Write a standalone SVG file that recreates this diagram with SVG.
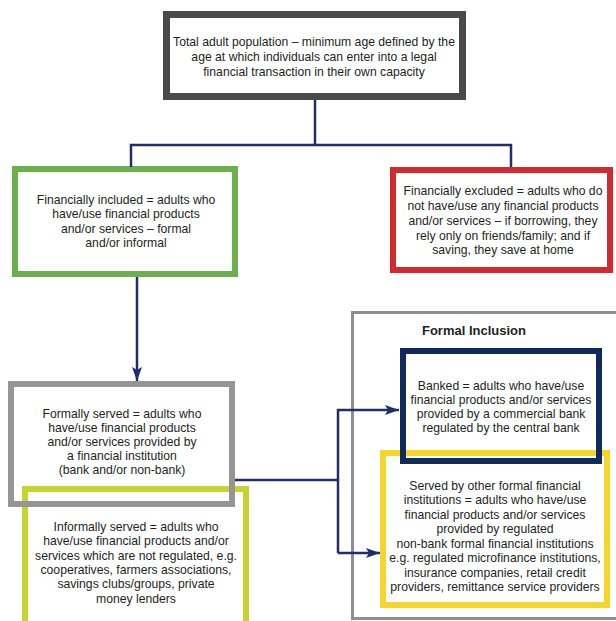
<svg xmlns="http://www.w3.org/2000/svg" width="616" height="621" viewBox="0 0 616 621">
<style>
.box{fill:none;}
.t{font-family:"Liberation Sans",Arial,sans-serif;font-size:12.2px;fill:#231f20;text-anchor:middle;}
.h{font-family:"Liberation Sans",Arial,sans-serif;font-size:13px;font-weight:bold;fill:#231f20;text-anchor:middle;}
.c{fill:none;stroke:#1f2e6e;stroke-width:2.5;}
</style>
<defs>
<marker id="arr" markerUnits="userSpaceOnUse" markerWidth="14" markerHeight="12" viewBox="0 0 14 12" refX="14" refY="6" orient="auto">
<path d="M0,1 L14,6 L0,11 L3,6 Z" fill="#1f2e6e"/>
</marker>
</defs>
<rect width="616" height="621" fill="#ffffff"/>

<g id="formal-inclusion">
<rect class="box" x="352.5" y="312.5" width="300" height="306" stroke="#8f8f8f" stroke-width="3"/>
<text class="h" x="474" y="335">Formal Inclusion</text>
</g>

<g id="total">
<rect x="166.5" y="14.5" width="296" height="82" fill="#ffffff" stroke="#4a4a4a" stroke-width="7"/>
<text class="t" x="314" y="46">Total adult population – minimum age defined by the</text>
<text class="t" x="314" y="61">age at which individuals can enter into a legal</text>
<text class="t" x="314" y="76">financial transaction in their own capacity</text>
</g>

<g id="included">
<rect x="15" y="169" width="220" height="105" fill="#ffffff" stroke="#6ab04d" stroke-width="6"/>
<text class="t" x="126" y="203.5">Financially included = adults who</text>
<text class="t" x="126" y="218">have/use financial products</text>
<text class="t" x="126" y="232.5">and/or services – formal</text>
<text class="t" x="126" y="247">and/or informal</text>
</g>

<g id="excluded">
<rect x="393" y="170" width="217" height="100" fill="#ffffff" stroke="#d12a2f" stroke-width="6"/>
<text class="t" x="503" y="194.5">Financially excluded = adults who do</text>
<text class="t" x="503" y="209.5">not have/use any financial products</text>
<text class="t" x="503" y="224.5">and/or services – if borrowing, they</text>
<text class="t" x="503" y="239.5">rely only on friends/family; and if</text>
<text class="t" x="503" y="254">saving, they save at home</text>
</g>

<g id="informal">
<rect class="box" x="25" y="489" width="221" height="200" stroke="#c5d430" stroke-width="6"/>
<text class="t" x="136" y="531">Informally served = adults who</text>
<text class="t" x="136" y="545.3">have/use financial products and/or</text>
<text class="t" x="136" y="559.6">services which are not regulated, e.g.</text>
<text class="t" x="136" y="573.9">cooperatives, farmers associations,</text>
<text class="t" x="136" y="588.2">savings clubs/groups, private</text>
<text class="t" x="136" y="602.5">money lenders</text>
</g>

<g id="formal">
<rect class="box" x="11" y="384" width="221" height="120" stroke="#959595" stroke-width="6"/>
<text class="t" x="122" y="417.5">Formally served = adults who</text>
<text class="t" x="122" y="431.7">have/use financial products</text>
<text class="t" x="122" y="445.9">and/or services provided by</text>
<text class="t" x="122" y="460.1">a financial institution</text>
<text class="t" x="122" y="474.3">(bank and/or non-bank)</text>
</g>

<g id="other">
<rect class="box" x="383" y="453" width="224" height="152" stroke="#f4d62c" stroke-width="6"/>
<text class="t" x="495" y="489.5">Served by other formal financial</text>
<text class="t" x="495" y="504">institutions = adults who have/use</text>
<text class="t" x="495" y="518.5">financial products and/or services</text>
<text class="t" x="495" y="533">provided by regulated</text>
<text class="t" x="495" y="547.5">non-bank formal financial institutions</text>
<text class="t" x="495" y="562">e.g. regulated microfinance institutions,</text>
<text class="t" x="495" y="576.5">insurance companies, retail credit</text>
<text class="t" x="495" y="591">providers, remittance service providers</text>
</g>

<g id="banked">
<rect class="box" x="403" y="351" width="196" height="110" stroke="#102a5c" stroke-width="6"/>
<text class="t" x="501" y="389.5">Banked = adults who have/use</text>
<text class="t" x="501" y="403.5">financial products and/or services</text>
<text class="t" x="501" y="417.5">provided by a commercial bank</text>
<text class="t" x="501" y="431.5">regulated by the central bank</text>
</g>

<g id="connectors">
<path class="c" d="M315,100 V145"/>
<path class="c" d="M131,167 V145 H511 V167"/>
<path class="c" d="M137,277 V381" marker-end="url(#arr)"/>
<path class="c" d="M235,480 H338"/>
<path class="c" d="M338,553 V410 H399" marker-end="url(#arr)"/>
<path class="c" d="M338,553 H380" marker-end="url(#arr)"/>
</g>
</svg>
